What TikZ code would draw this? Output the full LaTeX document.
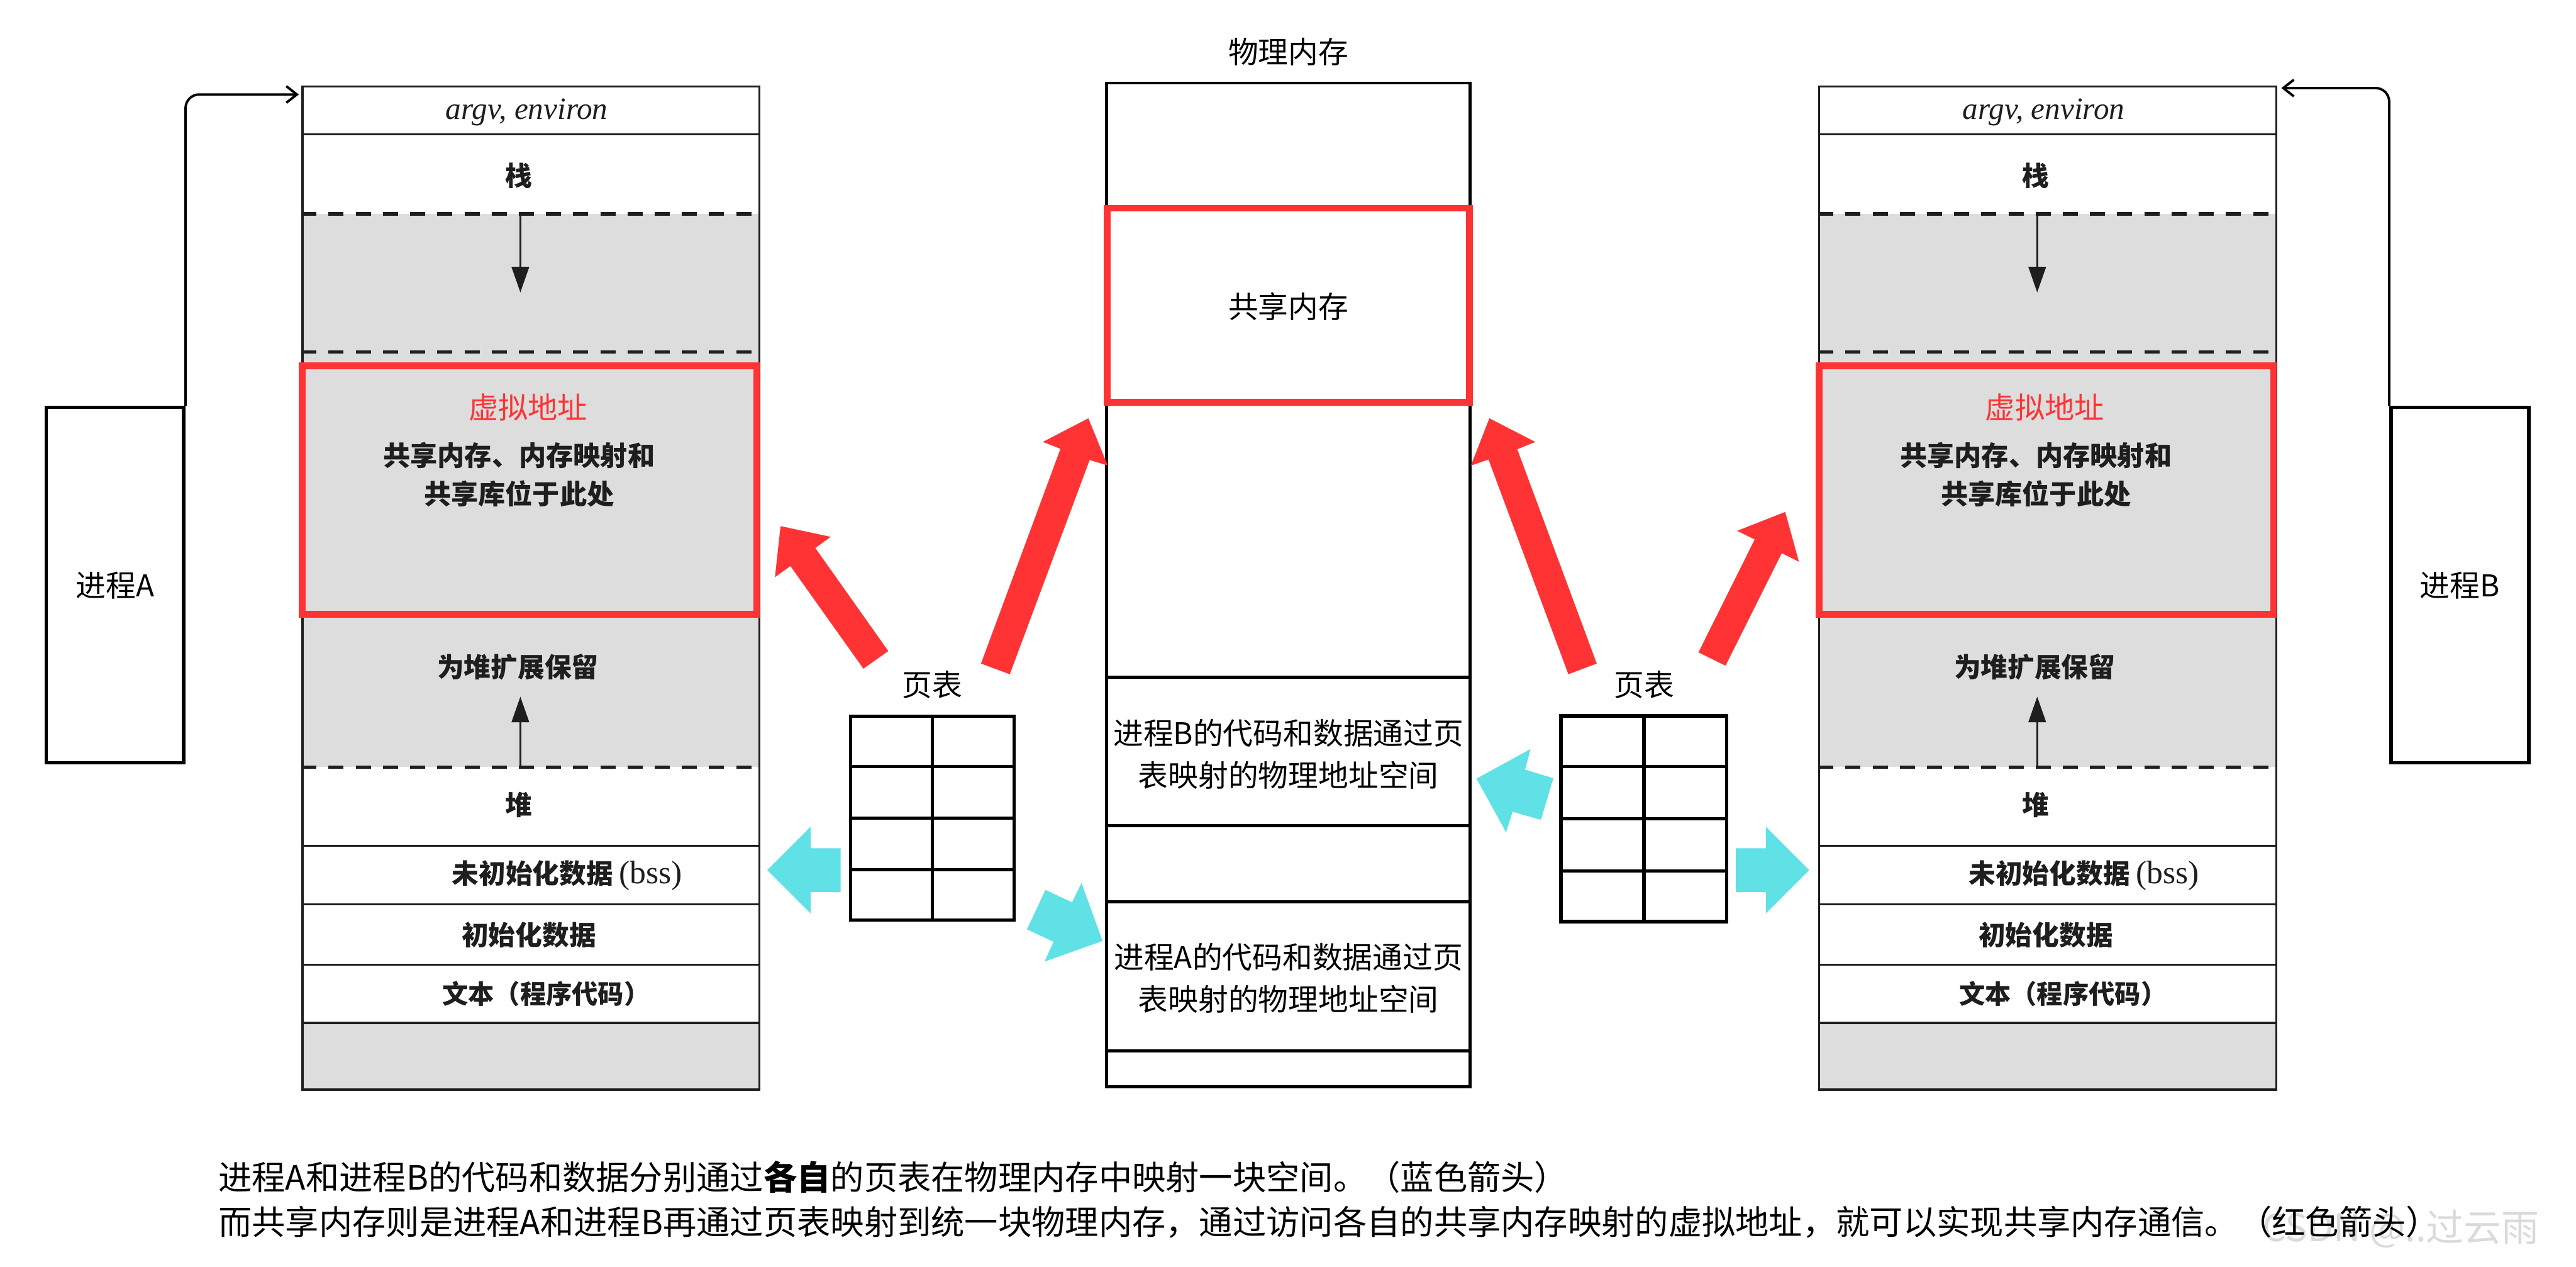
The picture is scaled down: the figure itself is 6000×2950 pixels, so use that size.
\documentclass[tikz,border=0pt]{standalone}
\usepackage{fontspec}
\newfontfamily\cjk{Noto Sans CJK SC}
\newfontfamily\serifx{Liberation Serif}
\usetikzlibrary{arrows.meta,calc}
\definecolor{hlred}{RGB}{255,51,51}
\definecolor{hlcyan}{RGB}{95,225,230}
\definecolor{scangray}{RGB}{221,221,221}
\definecolor{scantext}{RGB}{30,30,30}
\definecolor{wmark}{RGB}{218,218,218}

\tikzset{
  lbl/.style={font=\cjk\fontsize{19.9}{27.9}\selectfont, inner sep=0pt, align=center},
  scan/.style={font=\cjk\bfseries\fontsize{17.8}{21}\selectfont, text=scantext, inner sep=0pt},
  colframe/.style={draw=scantext, line width=1.4pt, inner sep=0pt},
  colline/.style={draw=scantext, line width=1.4pt},
  dashline/.style={draw=scantext, line width=2.2pt, dash pattern=on 10pt off 8pt},
  redbox/.style={draw=hlred, line width=4.5pt},
  physframe/.style={draw=black, line width=2pt, inner sep=0pt},
  physline/.style={draw=black, line width=2pt},
  tblframe/.style={draw=black, line width=2.2pt, inner sep=0pt},
  tblline/.style={draw=black, line width=2.2pt},
  procbox/.style={draw=black, line width=2.3pt, inner sep=0pt},
  conn/.style={draw=black, line width=1.6pt, rounded corners=9pt, -{Straight Barb[length=7pt,width=11pt]}},
  growarrow/.style={draw=scantext, line width=1.3pt, -{Triangle[length=17pt,width=11.5pt]}},
  note/.style={font=\cjk\fontsize{22.2}{28}\selectfont, inner sep=0pt, anchor=west},
}

% virtual memory column: #1 name prefix, #2 horizontal shift
\newcommand\vmcol[2]{%
  \begin{scope}[shift={(#2,0)}]
    \fill[scangray] (702,498) rectangle (1766,1786);
    \fill[scangray] (702,2382) rectangle (1766,2533);
    \node[colframe, minimum width=10.64cm, minimum height=23.34cm, anchor=north west] (#1col) at (702,199) {};
    \draw[colline] (702,313) -- (1766,313);
    \draw[colline] (702,1969) -- (1766,1969);
    \draw[colline] (702,2106) -- (1766,2106);
    \draw[colline] (702,2246) -- (1766,2246);
    \draw[colline] (702,2382) -- (1766,2382);
    \draw[dashline] (702,498) -- (1766,498);
    \draw[dashline] (702,820) -- (1766,820);
    \draw[dashline] (702,1786) -- (1766,1786);
    \node[font=\serifx\itshape\fontsize{20.5}{24}\selectfont, text=scantext, inner sep=0pt] (#1argv) at (1227,262) {argv, environ};
    \node[scan] (#1stack) at (1209,409) {栈};
    \coordinate (#1stk0) at (1212,498);
    \coordinate (#1stk1) at (1212,681);
    \draw[growarrow] (#1stk0) -- (#1stk1);
    \node[redbox, minimum width=10.58cm, minimum height=5.78cm, inner sep=0pt] (#1va) at (1233,1141) {};
    \node[font=\cjk\fontsize{19.7}{24}\selectfont, text=hlred, inner sep=0pt] (#1vatitle) at (1230,949) {虚拟地址};
    \node[scan, font=\cjk\bfseries\fontsize{18}{25}\selectfont] (#1shl1) at (1209,1061) {共享内存、内存映射和};
    \node[scan, font=\cjk\bfseries\fontsize{18}{25}\selectfont] (#1shl2) at (1209,1150) {共享库位于此处};
    \node[scan] (#1reserve) at (1206,1553) {为堆扩展保留};
    \coordinate (#1hp0) at (1212,1786);
    \coordinate (#1hp1) at (1212,1622);
    \draw[growarrow] (#1hp0) -- (#1hp1);
    \node[scan] (#1heap) at (1209,1874) {堆};
    \node[scan] (#1bss) at (1321,2039) {未初始化数据 {\serifx\mdseries\fontsize{21.5}{24}\selectfont (bss)}};
    \node[scan] (#1data) at (1232,2177) {初始化数据};
    \node[scan, font=\cjk\bfseries\fontsize{17.2}{21}\selectfont] (#1text) at (1272,2314) {文本（程序代码）};
  \end{scope}%
}

\begin{document}
\begin{tikzpicture}[x=0.01cm, y=-0.01cm]
  \fill[white] (0,0) rectangle (6000,2950);
  \useasboundingbox (0,0) rectangle (6000,2950);

  % ---------- virtual address spaces ----------
  \vmcol{A}{0}
  \vmcol{B}{3533}

  % ---------- processes ----------
  \node[procbox, lbl, minimum width=3.20cm, minimum height=8.27cm] (procA) at (268,1362.5) {进程A};
  \node[procbox, lbl, minimum width=3.21cm, minimum height=8.27cm] (procB) at (5729.5,1362.5) {进程B};
  \draw[conn] (procA.north east) |- ($(Acol.north west)+(-6,21)$);
  \draw[conn] (procB.north west) |- ($(Bcol.north east)+(9,6)$);

  % ---------- physical memory ----------
  \node[lbl] (physlabel) at (3001,121) {物理内存};
  \node[physframe, minimum width=8.46cm, minimum height=23.36cm] (phys) at (3001,1362) {};
  \draw[physline] (2578,1577) -- (3424,1577);
  \draw[physline] (2578,1923) -- (3424,1923);
  \draw[physline] (2578,2100) -- (3424,2100);
  \draw[physline] (2578,2447) -- (3424,2447);
  \node[redbox, minimum width=8.43cm, minimum height=4.52cm, inner sep=0pt] (shm) at (3000.5,711) {};
  \node[lbl] (shmlabel) at (3001,714) {共享内存};
  \node[lbl] (physB) at (3001,1756) {进程B的代码和数据通过页\\表映射的物理地址空间};
  \node[lbl] (physA) at (3001,2277) {进程A的代码和数据通过页\\表映射的物理地址空间};

  % ---------- page tables ----------
  \node[lbl] (ptlabelA) at (2171,1595) {页表};
  \node[tblframe, minimum width=3.81cm, minimum height=4.74cm] (ptA) at (2171.5,1905) {};
  \draw[tblline] (ptA.north) -- (ptA.south);
  \foreach \f in {0.25,0.5,0.75}
    \draw[tblline] ($(ptA.north west)!\f!(ptA.south west)$) -- ($(ptA.north east)!\f!(ptA.south east)$);
  \node[lbl] (ptlabelB) at (3830,1595) {页表};
  \node[tblframe, minimum width=3.86cm, minimum height=4.79cm] (ptB) at (3829,1906.5) {};
  \draw[tblline] (ptB.north) -- (ptB.south);
  \foreach \f in {0.25,0.5,0.75}
    \draw[tblline] ($(ptB.north west)!\f!(ptB.south west)$) -- ($(ptB.north east)!\f!(ptB.south east)$);

  % ---------- red block arrows (shared memory) ----------
  \fill[hlred] (1818,1225) -- (1935,1250) -- (1899,1276) -- (2069,1516) -- (2011,1557) -- (1841,1318) -- (1805,1344) -- cycle;
  \fill[hlred] (2535,974) -- (2580,1084) -- (2538,1071) -- (2352,1570) -- (2285,1545) -- (2470,1045) -- (2429,1029) -- cycle;
  \fill[hlred] (3469,974) -- (3576,1029) -- (3534,1046) -- (3719,1545) -- (3653,1570) -- (3467,1070) -- (3426,1084) -- cycle;
  \fill[hlred] (4158,1192) -- (4190,1308) -- (4150,1288) -- (4019,1550) -- (3956,1519) -- (4087,1256) -- (4046,1236) -- cycle;

  % ---------- cyan block arrows (code and data) ----------
  \fill[hlcyan] (1787,2026) -- (1888,1925) -- (1888,1975) -- (1958,1975) -- (1958,2077) -- (1888,2077) -- (1888,2127) -- cycle;
  \fill[hlcyan] (4214,2026) -- (4113,1925) -- (4113,1975) -- (4043,1975) -- (4043,2077) -- (4113,2077) -- (4113,2127) -- cycle;
  \fill[hlcyan] (2568,2191) -- (2519,2056) -- (2497,2101) -- (2435,2072) -- (2392,2164) -- (2454,2193) -- (2433,2239) -- cycle;
  \fill[hlcyan] (3439,1813) -- (3565,1744) -- (3552,1792) -- (3618,1812) -- (3589,1909) -- (3523,1890) -- (3508,1938) -- cycle;

  % ---------- explanation ----------
  \node[font=\cjk\fontsize{25}{28}\selectfont, text=wmark, inner sep=0pt] (wm) at (5592,2862) {CSDN @..过云雨};
  \node[note] (note1) at (508,2740) {进程A和进程B的代码和数据分别通过{\bfseries 各自}的页表在物理内存中映射一块空间。（蓝色箭头）};
  \node[note] (note2) at (508,2845) {而共享内存则是进程A和进程B再通过页表映射到统一块物理内存，通过访问各自的共享内存映射的虚拟地址，就可以实现共享内存通信。（红色箭头）};
\end{tikzpicture}
\end{document}
